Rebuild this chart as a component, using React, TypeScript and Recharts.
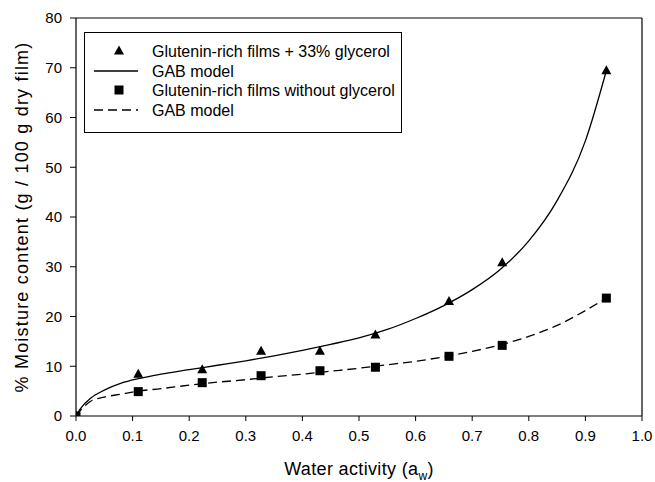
import React from 'react';
import {
  ComposedChart,
  Line,
  Scatter,
  XAxis,
  YAxis,
  ReferenceLine,
  Legend,
} from 'recharts';

const xTicks = [0, 0.1, 0.2, 0.3, 0.4, 0.5, 0.6, 0.7, 0.8, 0.9, 1.0];
const yTicks = [0, 10, 20, 30, 40, 50, 60, 70, 80];

// measured points
const withGlycerol = [
  { x: 0, y: 0 },
  { x: 0.11, y: 8.4 },
  { x: 0.223, y: 9.3 },
  { x: 0.327, y: 13.0 },
  { x: 0.431, y: 13.0 },
  { x: 0.529, y: 16.3 },
  { x: 0.659, y: 23.0 },
  { x: 0.753, y: 30.8 },
  { x: 0.937, y: 69.4 },
];

const withoutGlycerol = [
  { x: 0, y: 0 },
  { x: 0.11, y: 4.9 },
  { x: 0.223, y: 6.7 },
  { x: 0.327, y: 8.1 },
  { x: 0.431, y: 9.1 },
  { x: 0.529, y: 9.8 },
  { x: 0.659, y: 12.0 },
  { x: 0.753, y: 14.2 },
  { x: 0.937, y: 23.7 },
];

// GAB model curves
const gabWithGlycerol = [
  { x: 0, y: 0 },
  { x: 0.005, y: 1.0 },
  { x: 0.01, y: 1.8 },
  { x: 0.025, y: 3.5 },
  { x: 0.05, y: 5.2 },
  { x: 0.08, y: 6.6 },
  { x: 0.11, y: 7.5 },
  { x: 0.15, y: 8.4 },
  { x: 0.2, y: 9.3 },
  { x: 0.25, y: 10.2 },
  { x: 0.3, y: 11.1 },
  { x: 0.35, y: 12.1 },
  { x: 0.4, y: 13.2 },
  { x: 0.45, y: 14.4 },
  { x: 0.5, y: 15.7 },
  { x: 0.55, y: 17.4 },
  { x: 0.6, y: 19.6 },
  { x: 0.65, y: 22.2 },
  { x: 0.7, y: 25.4 },
  { x: 0.75, y: 29.5 },
  { x: 0.8, y: 35.2 },
  { x: 0.85, y: 43.3 },
  { x: 0.9, y: 55.3 },
  { x: 0.937, y: 69.4 },
];

const gabWithoutGlycerol = [
  { x: 0, y: 0 },
  { x: 0.005, y: 0.8 },
  { x: 0.01, y: 1.4 },
  { x: 0.025, y: 2.9 },
  { x: 0.05, y: 3.8 },
  { x: 0.08, y: 4.4 },
  { x: 0.11, y: 5.0 },
  { x: 0.15, y: 5.5 },
  { x: 0.2, y: 6.2 },
  { x: 0.25, y: 6.8 },
  { x: 0.3, y: 7.3 },
  { x: 0.35, y: 7.9 },
  { x: 0.4, y: 8.4 },
  { x: 0.45, y: 9.0 },
  { x: 0.5, y: 9.6 },
  { x: 0.55, y: 10.3 },
  { x: 0.6, y: 11.0 },
  { x: 0.65, y: 11.9 },
  { x: 0.7, y: 13.0 },
  { x: 0.75, y: 14.3 },
  { x: 0.8, y: 16.0 },
  { x: 0.85, y: 18.2 },
  { x: 0.9, y: 21.2 },
  { x: 0.937, y: 23.7 },
];

const legendLabels = [
  'Glutenin-rich films + 33% glycerol',
  'GAB model',
  'Glutenin-rich films without glycerol',
  'GAB model',
];

const FONT = '"Liberation Sans", Arial, Helvetica, sans-serif';
const DASH = '9 5';

const Triangle = (props: any) => {
  const { cx, cy } = props;
  if (cx == null || cy == null) return null;
  return (
    <polygon
      points={`${cx},${cy - 5.5} ${cx + 5},${cy + 3.5} ${cx - 5},${cy + 3.5}`}
      fill="#000"
    />
  );
};

const Square = (props: any) => {
  const { cx, cy } = props;
  if (cx == null || cy == null) return null;
  return <rect x={cx - 4.5} y={cy - 4.5} width={9} height={9} fill="#000" />;
};

const LegendBox = () => {
  const rows = [19, 39, 58, 78];
  return (
    <svg width={318} height={101} style={{ display: 'block' }}>
      <rect x={0.5} y={0.5} width={317} height={100} fill="#fff" stroke="#000" strokeWidth={1} />
      <Triangle cx={35} cy={rows[0]} />
      <line x1={10} x2={54} y1={rows[1]} y2={rows[1]} stroke="#000" strokeWidth={1.3} />
      <Square cx={35} cy={rows[2]} />
      <line x1={10} x2={54} y1={rows[3]} y2={rows[3]} stroke="#000" strokeWidth={1.3} strokeDasharray={DASH} />
      {legendLabels.map((label, i) => (
        <text key={i} x={68} y={rows[i] + 5.5} fontSize={16} fontFamily={FONT} fill="#000">
          {label}
        </text>
      ))}
    </svg>
  );
};

const XTitle = (props: any) => {
  const { viewBox } = props;
  const cx = viewBox.x + viewBox.width / 2;
  return (
    <text
      x={cx}
      y={viewBox.y + 59}
      textAnchor="middle"
      fontSize={18}
      letterSpacing={0.35}
      fontFamily={FONT}
      fill="#000"
    >
      <tspan>Water activity (a</tspan>
      <tspan fontSize={12} dy={5}>w</tspan>
      <tspan dy={-5}>)</tspan>
    </text>
  );
};

const YTitle = (props: any) => {
  const { viewBox } = props;
  const cy = viewBox.y + viewBox.height / 2;
  const x = 28;
  return (
    <text
      x={x}
      y={cy}
      transform={`rotate(-90, ${x}, ${cy})`}
      textAnchor="middle"
      fontSize={18}
      letterSpacing={1.2}
      fontFamily={FONT}
      fill="#000"
    >
      % Moisture content (g / 100 g dry film)
    </text>
  );
};

export default function App() {
  return (
    <div style={{ position: 'absolute', left: 0, top: 0, background: '#fff' }}>
      <ComposedChart
        width={655}
        height={482}
        margin={{ top: 18, right: 13, left: 0, bottom: 0 }}
      >
        <XAxis
          type="number"
          dataKey="x"
          domain={[0, 1]}
          ticks={xTicks}
          tickFormatter={(v: number) => v.toFixed(1)}
          height={66}
          tickSize={5}
          tickMargin={9}
          axisLine={{ stroke: '#000', strokeWidth: 1.2 }}
          tickLine={{ stroke: '#000' }}
          tick={{ fill: '#000', fontSize: 15, fontFamily: FONT }}
          allowDataOverflow
          label={<XTitle />}
        />
        <YAxis
          type="number"
          domain={[0, 80]}
          ticks={yTicks}
          width={76}
          tickSize={6}
          tickMargin={8}
          axisLine={{ stroke: '#000', strokeWidth: 1.2 }}
          tickLine={{ stroke: '#000' }}
          tick={{ fill: '#000', fontSize: 15, fontFamily: FONT }}
          allowDataOverflow
          label={<YTitle />}
        />
        <ReferenceLine y={80} stroke="#000" strokeWidth={1.2} />
        <ReferenceLine x={1} stroke="#000" strokeWidth={1.2} />
        <Legend
          layout="vertical"
          align="center"
          verticalAlign="middle"
          content={<LegendBox />}
          wrapperStyle={{ left: 84, top: 32, width: 318, height: 101 }}
        />
        <Line
          data={gabWithGlycerol}
          dataKey="y"
          type="monotone"
          stroke="#000"
          strokeWidth={1.3}
          dot={false}
          activeDot={false}
          isAnimationActive={false}
          legendType="none"
        />
        <Line
          data={gabWithoutGlycerol}
          dataKey="y"
          type="monotone"
          stroke="#000"
          strokeWidth={1.3}
          strokeDasharray={DASH}
          dot={false}
          activeDot={false}
          isAnimationActive={false}
          legendType="none"
        />
        <Scatter
          data={withGlycerol}
          dataKey="y"
          shape={<Triangle />}
          isAnimationActive={false}
        />
        <Scatter
          data={withoutGlycerol}
          dataKey="y"
          shape={<Square />}
          isAnimationActive={false}
        />
      </ComposedChart>
    </div>
  );
}
